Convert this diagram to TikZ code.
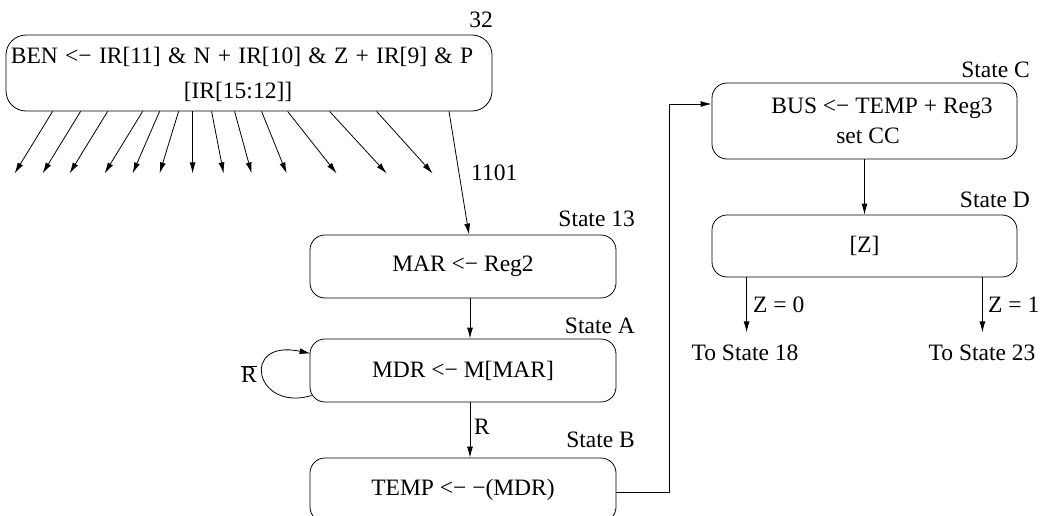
\documentclass[tikz,border=0pt]{standalone}
\usepackage{fontspec}
\setmainfont{Liberation Serif}
\usetikzlibrary{arrows.meta,calc}
\newcommand\dgfont{\fontsize{23.5}{27}\selectfont}
\begin{document}
\begin{tikzpicture}[x=1pt,y=-1pt,
  every node/.append style={font=\dgfont},
  box/.style={draw, line width=0.8pt, rounded corners=15pt, inner sep=0pt},
  arr/.style={line width=0.8pt, -{Latex[length=11pt,width=6pt]}},
  txt/.style={inner sep=0pt}]
\clip (0,0) rectangle (1046,516);
% boxes
\node[box, minimum width=486pt, minimum height=76pt, rounded corners=20pt] (top) at (249,73) {};
\node[txt] (t1) at (242,57) {\spaceskip=7.3pt BEN <− IR[11] \& N + IR[10] \& Z + IR[9] \& P};
\node[txt] (t2) at (238,92) {[IR[15:12]]};
\node[txt, anchor=east] (n32) at (493,20) {32};

\node[box, minimum width=306pt, minimum height=63pt] (mar) at (463,266.5) {MAR <− Reg2};
\node[box, minimum width=306pt, minimum height=63pt] (mdr) at (463,370.5) {MDR <− M[MAR]};
\node[box, minimum width=306pt, minimum height=64pt] (temp) at (463,490) {TEMP <− −(MDR)};

\node[box, minimum width=305pt, minimum height=76pt] (busc) at (864.5,121) {};
\node[txt] (c1) at (882,108) {BUS <− TEMP + Reg3};
\node[txt] (c2) at (868,136) {set CC};
\node[box, minimum width=305pt, minimum height=62pt] (dz) at (864.5,246) {[Z]};

% state labels
\node[txt, anchor=east] (s13) at (635,219) {State 13};
\node[txt, anchor=east] (sA) at (635,326) {State A};
\node[txt, anchor=east] (sB) at (635,440) {State B};
\node[txt, anchor=east] (sC) at (1030,70) {State C};
\node[txt, anchor=east] (sD) at (1030,200) {State D};

% fan of arrows
\foreach \s/\e in {53/15,81/43,108/70,143/105,160/133,179/160,193/193,212/224,235/252,262/287,288/337,330/387,377/433}
  \draw[arr] ([xshift={(\s-6)*1pt}]top.south west) -- ++({\e-\s},62);

% main flow
\draw[arr] ([xshift=200pt]top.south) -- ([xshift=6pt]mar.north);
\node[txt, anchor=west] (l1101) at (471,173) {1101};
\draw[arr] ([xshift=7pt]mar.south) -- ([xshift=7pt]mdr.north);
\draw[arr] ([xshift=7pt]mdr.south) -- ([xshift=7pt]temp.north);
\node[txt, anchor=west] (rlab) at (474,427) {R};

% self loop
\coordinate (la) at ([xshift=2pt,yshift=-25pt]mdr.west);
\coordinate (lb) at ([xshift=1pt,yshift=17pt]mdr.west);
\draw[arr] (la) .. controls +(-57,17) and +(-71,-15) .. (lb);
\node[txt] (rbar) at (249,374) {\(\overline{\hbox{R}}\)};

% to state C
\draw[arr] ([yshift=-2pt]temp.east) -| ([xshift=-42pt,yshift=17pt]busc.west) -- ([yshift=17pt]busc.west);
\draw[arr] (busc.south) -- (dz.north);

% branches
\coordinate (z0end) at ([xshift=35pt,yshift=-55pt]dz.south west);
\coordinate (z1end) at ([xshift=-35pt,yshift=-55pt]dz.south east);
\draw[arr] ([xshift=35pt]dz.south west) -- (z0end);
\draw[arr] ([xshift=-35pt]dz.south east) -- (z1end);
\node[txt, anchor=west] (z0) at (753,305) {Z = 0};
\node[txt, anchor=west] (z1) at (988,305) {Z = 1};
\node[txt] (ts18) at (745,353) {To State 18};
\node[txt] (ts23) at (982,353) {To State 23};
\end{tikzpicture}
\end{document}
